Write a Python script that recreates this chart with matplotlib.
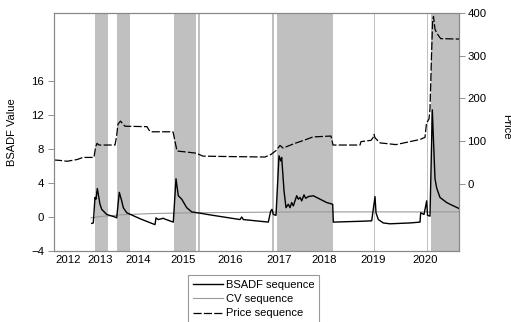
import matplotlib
matplotlib.use("Agg")
import matplotlib.pyplot as plt

plt.rcParams['font.family'] = ['Liberation Sans', 'DejaVu Sans']
plt.rcParams['font.size'] = 8

# x values are observation positions (uneven sampling, so years are not evenly spaced)
year_pos = [14, 46.5, 84, 129, 176, 225, 270, 319, 371]
year_labels = ['2012', '2013', '2014', '2015', '2016', '2017', '2018', '2019', '2020']

# bubble periods (shaded)
band_start = [41, 63, 120, 144, 218, 223, 320, 372.7, 376.5]
band_end = [54.3, 75.7, 142, 145.5, 219.5, 279, 321.3, 374, 405]

# BSADF sequence
bsadf_x = [37.7, 39.3, 41, 42, 43.3, 46, 47.7, 52.7, 61, 62.7, 65.3, 67.7, 69.3, 72.7,
           86, 101, 102, 104.3, 109.3, 111, 119.3, 122, 124.3, 127.7, 132.7, 137.7, 146,
           156, 186, 187.7, 189.3, 214.3, 216.7, 218, 219.3, 222, 225, 226.7, 227.7, 230,
           232, 234.3, 236, 237.7, 239.3, 242.7, 244.3, 246, 247.7, 250, 251.7, 254.3,
           259.3, 266, 272.7, 278.7, 279.3, 307.7, 317.7, 321, 322, 324.3, 329.3, 336,
           356, 366, 366.7, 370, 372.7, 373.5, 376, 378.3, 381, 382.7, 386, 392.7, 396, 405]
bsadf_y = [-0.75, -0.7, 2.3, 2.1, 3.35, 1.5, 0.9, 0.3, 0.0, -0.1, 2.9, 1.9, 1.1, 0.5,
           -0.2, -0.9, -0.1, -0.3, -0.15, -0.25, -0.6, 4.5, 2.5, 2.1, 1.1, 0.6, 0.45,
           0.25, -0.3, 0.0, -0.3, -0.6, 0.7, 0.9, 0.3, 0.2, 7.2, 6.6, 7.0, 3.1,
           1.1, 1.5, 1.1, 1.7, 1.3, 2.5, 2.1, 2.3, 1.9, 2.6, 2.2, 2.4,
           2.5, 2.1, 1.7, 1.5, -0.6, -0.5, -0.45, 2.4, 0.5, -0.3, -0.7, -0.8,
           -0.7, -0.6, 0.5, 0.3, 1.9, 0.2, 0.1, 12.6, 4.5, 3.4, 2.3, 1.7, 1.5, 1.0]

# critical value sequence
cv_x = [37, 46, 56, 66, 76, 96, 126, 146, 196, 246, 296, 346, 405]
cv_y = [-0.1, 0.05, 0.15, 0.25, 0.3, 0.4, 0.47, 0.5, 0.55, 0.6, 0.6, 0.6, 0.6]

# price sequence
price_x = [0, 6, 13, 23, 29, 40, 41.5, 43, 45, 61, 62.5, 64, 66.5, 69, 71, 93, 95, 97,
           119, 121, 123, 131, 142, 149, 176, 211, 217, 222, 226, 229, 241, 251, 259,
           277, 279, 306, 307, 317, 319, 320, 321, 323, 326, 342, 356, 366, 371, 372.5,
           375, 376, 377.5, 378.7, 379.5, 381, 383, 386.7, 405]
price_y = [56, 55, 53, 57, 62, 62, 85, 95, 91, 91, 110, 140, 147, 140, 135, 134, 126, 122,
           122, 100, 77, 75, 72, 65, 64, 63, 69, 78, 90, 84, 95, 103, 110,
           112, 91, 91, 99, 102, 108, 116, 108, 103, 96, 92, 99, 104, 109, 142,
           152, 175, 300, 385, 392, 362, 352, 340, 339]

fig = plt.figure(figsize=(5.11, 3.22), dpi=100)
ax = fig.add_axes([54 / 511, 1 - 251 / 322, 405 / 511, 238 / 322])
ax2 = ax.twinx()

for s, e in zip(band_start, band_end):
    ax.axvspan(s, e, color='#c0c0c0', lw=0, zorder=0)

l1, = ax.plot(bsadf_x, bsadf_y, color='black', lw=1.0, label='BSADF sequence', zorder=3)
l2, = ax.plot(cv_x, cv_y, color='#9a9a9a', lw=0.8, label='CV sequence', zorder=2)
l3, = ax2.plot(price_x, price_y, color='black', lw=0.9, linestyle=(0, (6.5, 1.8)),
               label='Price sequence')

ax.set_xlim(0, 405)
ax.set_ylim(-4, 24)
ax.set_yticks([-4, 0, 4, 8, 12, 16])
ax2.set_ylim(-157, 400)
ax2.set_yticks([0, 100, 200, 300, 400])
ax.set_xticks(year_pos)
ax.set_xticklabels(year_labels)

ax.tick_params(axis='x', length=0, pad=3, labelsize=8.2)
ax.tick_params(axis='y', direction='out', length=4, width=0.6, color='#808080', pad=3, labelsize=8.2)
ax2.tick_params(axis='y', direction='out', length=4, width=0.6, color='#808080', pad=2, labelsize=8.2)

for a in (ax, ax2):
    for sp in a.spines.values():
        sp.set_color('#888888')
        sp.set_linewidth(0.8)

fig.text(11.7 / 511, 1 - 132.5 / 322, 'BSADF Value', rotation=90, ha='center', va='center', fontsize=8)
fig.text(506 / 511, 1 - 127 / 322, 'Price', rotation=-90, ha='center', va='center', fontsize=8)

leg = fig.legend(handles=[l1, l2, l3], loc='upper center', bbox_to_anchor=(253.5 / 511, 1 - 275 / 322),
                 fancybox=False, frameon=True, edgecolor='#808080', fontsize=8,
                 handlelength=2.7, handletextpad=0.3, labelspacing=0.38, borderpad=0.45,
                 borderaxespad=0)
leg.get_frame().set_linewidth(0.8)

fig.savefig('out.png', dpi=100)
